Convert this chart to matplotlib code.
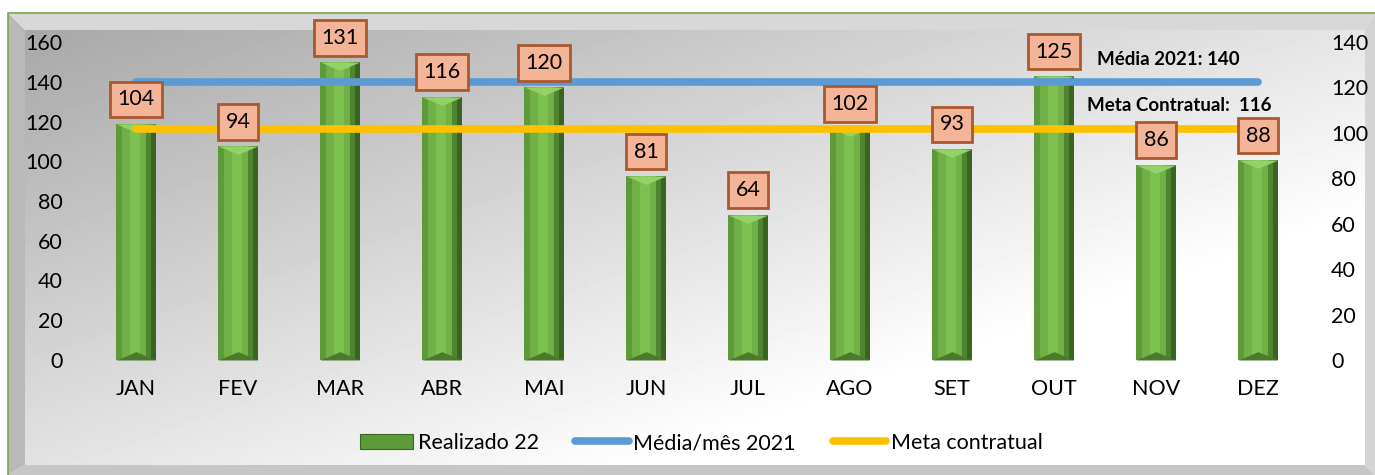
import matplotlib.pyplot as plt
import numpy as np
from matplotlib.patches import Polygon, Patch
from matplotlib.lines import Line2D
from matplotlib.path import Path

plt.rcParams['font.family'] = ['Lato', 'DejaVu Sans']

meses = ['JAN', 'FEV', 'MAR', 'ABR', 'MAI', 'JUN', 'JUL', 'AGO', 'SET', 'OUT', 'NOV', 'DEZ']
realizado_22 = [104, 94, 131, 116, 120, 81, 64, 102, 93, 125, 86, 88]
media_2021 = [140, 140, 140, 140, 140, 140, 140, 140, 140, 140, 140, 140]
meta_contratual = [116, 116, 116, 116, 116, 116, 116, 116, 116, 116, 116, 116]
ticks_esq = [0, 20, 40, 60, 80, 100, 120, 140, 160]
ticks_dir = [0, 20, 40, 60, 80, 100, 120, 140]

blue = '#5b9bd5'
yellow = '#ffc000'
fs = 15.5

fig = plt.figure(figsize=(13.75, 4.75), dpi=100)
fig.patch.set_facecolor('white')

# fundo com moldura em relevo
bg = fig.add_axes([0, 0, 1, 1], zorder=-10)
bg.set_xlim(0, 1375)
bg.set_ylim(475, 0)
bg.axis('off')
gx, gy = np.meshgrid(np.linspace(0, 1, 200), np.linspace(0, 1, 100))
grad = np.clip(168 + 62 * gx + 58 * gy, 0, 255)
bg.imshow(grad, cmap='gray', vmin=0, vmax=255, extent=(25, 1365, 465, 30), aspect='auto')
bg.add_patch(Polygon([(8, 13), (1375, 13), (1365, 30), (25, 30)], color='#d8d8d8', lw=0))
bg.add_patch(Polygon([(8, 13), (25, 30), (25, 465), (8, 475)], color='#b9b9b9', lw=0))
bg.add_patch(Polygon([(8, 475), (25, 465), (1365, 465), (1375, 475)], color='#c6c6c6', lw=0))
bg.add_patch(Polygon([(1375, 13), (1365, 30), (1365, 465), (1375, 475)], color='#d4d4d4', lw=0))
bg.plot([8, 8, 1375], [475, 13, 13], color='#70ad47', lw=1.2)

rect = [85 / 1375, 115 / 475, 1224 / 1375, 318 / 475]
ax_b = fig.add_axes(rect)
ax_l = fig.add_axes(rect)
for a in (ax_b, ax_l):
    a.patch.set_visible(False)
    for s in a.spines.values():
        s.set_visible(False)
    a.set_xlim(-0.5, 11.5)

x = np.arange(len(meses))
w = 0.39

# barras com efeito de bisel
ax_b.bar(x, realizado_22, width=w, color='#5e9a39', lw=0)
ax_b.bar(x - w * 0.5 + w * 0.14, realizado_22, width=w * 0.6, align='edge', color='#70b046', lw=0)
ax_b.bar(x - w * 0.14, realizado_22, width=w * 0.24, align='edge', color='#7cc050', lw=0)
ax_b.bar(x + w * 0.5 - w * 0.26, realizado_22, width=w * 0.14, align='edge', color='#4f8530', lw=0)
ax_b.bar(x + w * 0.5 - w * 0.12, realizado_22, width=w * 0.12, align='edge', color='#3b6423', lw=0)
top_tri = Path([(-1, 0), (1, 0), (0, -0.42), (-1, 0)])
bot_tri = Path([(-1, 0), (1, 0), (0, 0.42), (-1, 0)])
ax_b.plot(x, realizado_22, ls='none', marker=top_tri, markersize=28.6, color='#93d267', mew=0)
ax_b.plot(x, [0] * len(x), ls='none', marker=bot_tri, markersize=28.6, color='#4a7b2c', mew=0)

ax_b.set_ylim(0, 140)
ax_b.set_yticks(ticks_dir)
ax_b.yaxis.tick_right()
ax_b.tick_params(axis='y', length=0, pad=16, labelsize=fs)
ax_b.set_xticks(x)
ax_b.set_xticklabels(meses)
ax_b.tick_params(axis='x', length=0, pad=14, labelsize=fs)

ax_l.plot(x, media_2021, color=blue, lw=5.5, solid_capstyle='round')
ax_l.plot(x, meta_contratual, color=yellow, lw=5.5, solid_capstyle='round')
ax_l.set_ylim(0, 160)
ax_l.set_yticks(ticks_esq)
ax_l.tick_params(axis='y', length=0, pad=16, labelsize=fs)
ax_l.set_xticks([])

for xi, v in zip(x, realizado_22):
    ax_l.annotate(str(v), xy=(xi, v), xycoords=ax_b.transData, xytext=(0, 17.6),
                  textcoords='offset points', ha='center', va='center', fontsize=fs,
                  bbox=dict(boxstyle='square,pad=0.36', facecolor='#f3b497', edgecolor='#a9592f', lw=2))

ax_l.text(9.42, 151, 'Média 2021: 140', fontsize=13.5, fontweight='bold', ha='left', va='center')
ax_l.text(9.32, 128, 'Meta Contratual:  116', fontsize=13.5, fontweight='bold', ha='left', va='center')

handles = [Patch(facecolor='#5e9a39', edgecolor='#3b6423', lw=0.8),
           Line2D([], [], color=blue, lw=5.5, solid_capstyle='round'),
           Line2D([], [], color=yellow, lw=5.5, solid_capstyle='round')]
fig.legend(handles, ['Realizado 22', 'Média/mês 2021', 'Meta contratual'], ncol=3, loc='center',
           bbox_to_anchor=(701 / 1375, 32 / 475), frameon=False, fontsize=fs,
           handlelength=2.5, handletextpad=0.2, columnspacing=1.7)

fig.savefig('out.png', dpi=100)
